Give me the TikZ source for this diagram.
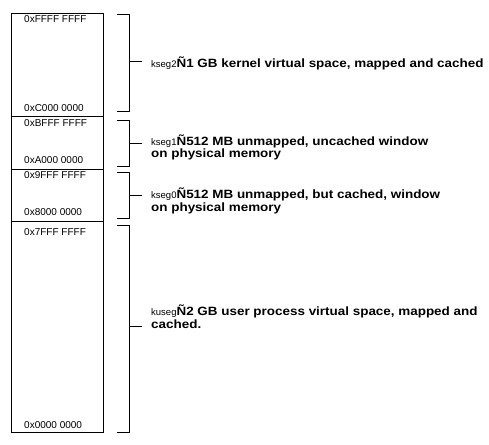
\documentclass[tikz,border=0pt]{standalone}
\usepackage{fontspec}
\setmainfont{Liberation Sans}
\newfontface\descbf{Liberation Sans Bold}[FakeStretch=1.12]
\newcommand{\segname}[1]{{\fontsize{9.5}{10}\selectfont\mdseries\rmfamily #1}}
\begin{document}
\begin{tikzpicture}[x=1pt,y=-1pt,
  addr/.style={anchor=base west,inner sep=0pt,font=\fontsize{10}{12}\selectfont},
  desc/.style={anchor=base west,inner sep=0pt,align=left,font=\fontsize{12}{12.2}\selectfont\descbf},
  boxline/.style={line width=0.9pt},
  br/.style={line width=0.8pt}]
\useasboundingbox (0,0) rectangle (489,444);
% memory column
\draw[boxline] (11,13) rectangle (103,432);
\draw[boxline] (11,116) -- (103,116);
\draw[boxline] (11,169) -- (103,169);
\draw[boxline] (11,221) -- (103,221);
% address labels
\node[addr] (a1) at (24,23) {0xFFFF FFFF};
\node[addr] (a2) at (24,111) {0xC000 0000};
\node[addr] (a3) at (24,126) {0xBFFF FFFF};
\node[addr] (a4) at (24,163) {0xA000 0000};
\node[addr] (a5) at (24,178.5) {0x9FFF FFFF};
\node[addr] (a6) at (24,215) {0x8000 0000};
\node[addr] (a7) at (24,235) {0x7FFF FFFF};
\node[addr] (a8) at (24,428) {0x0000 0000};
% brackets
\draw[br] (117,14) -- (129,14) -- (129,111) -- (117,111);
\coordinate (t2) at (142,61);
\draw[br] (129,61) -- (t2);
\draw[br] (117,120) -- (129,120) -- (129,166) -- (117,166);
\coordinate (t1) at (142,143);
\draw[br] (129,143) -- (t1);
\draw[br] (117,172) -- (129,172) -- (129,218) -- (117,218);
\coordinate (t0) at (142,195.5);
\draw[br] (129,195.5) -- (t0);
\draw[br] (117,225) -- (129,225) -- (129,432) -- (117,432);
\coordinate (tu) at (142,326);
\draw[br] (129,326) -- (tu);
% descriptions
\node[desc] (d2) at (151,67) {\segname{kseg2}Ñ1 GB kernel virtual space, mapped and cached};
\node[desc] (d1) at (151,157.3) {\segname{kseg1}Ñ512 MB unmapped, uncached window\\on physical memory};
\node[desc] (d0) at (151,211) {\segname{kseg0}Ñ512 MB unmapped, but cached, window\\on physical memory};
\node[desc] (du) at (151,328) {\segname{kuseg}Ñ2 GB user process virtual space, mapped and\\cached.};
\end{tikzpicture}
\end{document}
